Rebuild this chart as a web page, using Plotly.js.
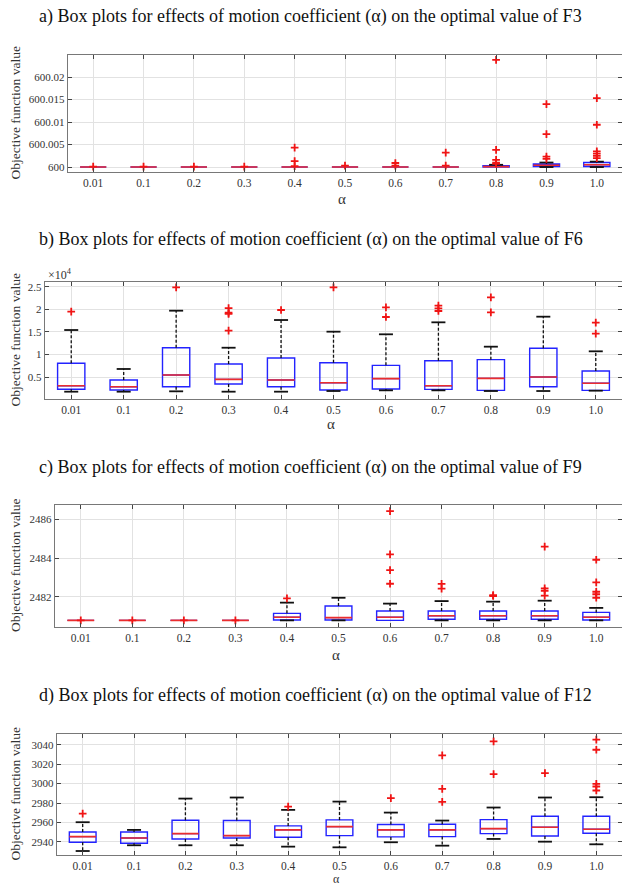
<!DOCTYPE html>
<html>
<head>
<meta charset="utf-8">
<script src="https://cdn.plot.ly/plotly-3.0.1.min.js"></script>
<style>html,body{margin:0;padding:0;background:#fff;}#chart{width:622px;height:885px;}</style>
</head>
<body>
<div id="chart"></div>
<script>
// ---------- data ----------
const alphas = ['0.01','0.1','0.2','0.3','0.4','0.5','0.6','0.7','0.8','0.9','1.0'];

const panelTitles = [
  'a) Box plots for effects of motion coefficient (α) on the optimal value of F3',
  'b) Box plots for effects of motion coefficient (α) on the optimal value of F6',
  'c) Box plots for effects of motion coefficient (α) on the optimal value of F9',
  'd) Box plots for effects of motion coefficient (α) on the optimal value of F12'
];
const yTitle = 'Objective function value';
const xTitle = 'α';

// F3
const f3Q1  = [600,600,600,600,600,600,600,600,600.0000,600.0001,600.0001];
const f3Med = [600,600,600,600,600,600,600,600,600.0001,600.0004,600.0005];
const f3Q3  = [600,600,600,600,600,600,600,600,600.0003,600.0007,600.0010];
const f3Lo  = [600,600,600,600,600,600,600,600,600,600,600];
const f3Hi  = [600,600,600,600,600,600,600,600,600.0005,600.0010,600.0012];
const f3OutX = ['0.01','0.1','0.2','0.3','0.4','0.4','0.4','0.5','0.6','0.6','0.7','0.7',
  '0.8','0.8','0.8','0.8','0.8','0.9','0.9','0.9','0.9','1.0','1.0','1.0','1.0','1.0','1.0'];
const f3OutY = [600.0001,600.0001,600.0001,600.0001,600.0043,600.0013,600.0002,600.0003,600.0009,600.0003,600.0032,600.0003,
  600.0238,600.0038,600.0016,600.0010,600.0007,600.0140,600.0073,600.0023,600.0018,600.0153,600.0094,600.0035,600.0030,600.0025,600.0020];
const f3TickVals = [600,600.005,600.01,600.015,600.02];
const f3TickText = ['600','600.005','600.01','600.015','600.02'];

// F6
const f6Q1  = [2270,2110,2850,3450,2850,2110,2330,2260,2040,2850,2040];
const f6Med = [3070,2850,5440,4480,4330,3740,4630,3070,4700,5000,3600];
const f6Q3  = [8040,4330,11500,7890,9220,8180,7590,8620,8850,11370,6330];
const f6Lo  = [1740,1740,1820,1740,1740,1890,2040,2040,1890,1890,1960];
const f6Hi  = [15430,6780,19720,11500,17650,15060,14480,17140,11730,18390,10700];
const f6OutX = ['0.01','0.2','0.3','0.3','0.3','0.3','0.4','0.5','0.6','0.6','0.7','0.7','0.7','0.8','0.8','1.0','1.0'];
const f6OutY = [19500,24900,20300,19300,19000,15300,19870,24900,20470,18320,20830,20250,19650,22690,19360,17060,14610];
const f6TickVals = [5000,10000,15000,20000,25000];
const f6TickText = ['0.5','1','1.5','2','2.5'];

// F9
const f9Q1  = [2480.8,2480.8,2480.8,2480.8,2480.82,2480.82,2480.80,2480.86,2480.86,2480.86,2480.82];
const f9Med = [2480.8,2480.8,2480.8,2480.8,2480.96,2480.94,2480.96,2481.04,2481.04,2481.04,2480.96];
const f9Q3  = [2480.8,2480.8,2480.8,2480.8,2481.16,2481.54,2481.28,2481.28,2481.28,2481.28,2481.21];
const f9Lo  = [2480.8,2480.8,2480.8,2480.8,2480.80,2480.80,2480.80,2480.80,2480.80,2480.80,2480.80];
const f9Hi  = [2480.8,2480.8,2480.8,2480.8,2481.71,2481.96,2481.66,2481.79,2481.76,2481.81,2481.44];
const f9OutX = ['0.01','0.1','0.2','0.3','0.4','0.6','0.6','0.6','0.6','0.7','0.7','0.8','0.8',
  '0.9','0.9','0.9','0.9','1.0','1.0','1.0','1.0','1.0'];
const f9OutY = [2480.8,2480.8,2480.8,2480.8,2481.93,2486.41,2484.19,2483.38,2482.68,2482.67,2482.43,2482.10,2482.05,
  2484.58,2482.44,2482.32,2482.07,2483.91,2482.75,2482.27,2482.14,2481.96];
const f9TickVals = [2482,2484,2486];
const f9TickText = ['2482','2484','2486'];

// F12
const f12Q1  = [2939.7,2938.7,2943.1,2944.1,2944.8,2946.5,2945.2,2945.5,2948.6,2946.2,2949.0];
const f12Med = [2945.5,2944.1,2948.6,2946.5,2952.4,2955.8,2952.4,2952.4,2953.7,2955.2,2953.0];
const f12Q3  = [2950.3,2950.3,2962.3,2962.0,2956.5,2962.7,2957.9,2958.2,2963.0,2966.5,2966.5];
const f12Lo  = [2930.7,2936.6,2936.6,2936.6,2935.2,2934.5,2939.7,2936.2,2943.1,2940.3,2937.6];
const f12Hi  = [2960.3,2952.4,2984.6,2985.7,2973.0,2981.5,2970.2,2962.0,2975.4,2985.7,2986.0];
const f12OutX = ['0.01','0.4','0.6','0.7','0.7','0.7','0.8','0.8','0.9','1.0','1.0','1.0','1.0','1.0'];
const f12OutY = [2969.2,2976.4,2985.0,3029.0,2994.6,2981.2,3043.4,3009.8,3010.8,3045.2,3034.8,2999.8,2997.0,2992.9];
const f12TickVals = [2940,2960,2980,3000,3020,3040];
const f12TickText = ['2940','2960','2980','3000','3020','3040'];

// ---------- layout geometry (pixels) ----------
const W = 622, H = 885;
const panels = [
  {q1:f3Q1, med:f3Med, q3:f3Q3, lo:f3Lo, hi:f3Hi, ox:f3OutX, oy:f3OutY, tv:f3TickVals, tt:f3TickText,
   left:68, top:55, bottom:172, yr:[599.9989,600.0249], titleY:16, alphaY:199, alphaSize:15},
  {q1:f6Q1, med:f6Med, q3:f6Q3, lo:f6Lo, hi:f6Hi, ox:f6OutX, oy:f6OutY, tv:f6TickVals, tt:f6TickText,
   left:45, top:282, bottom:399, yr:[116,26090], titleY:240, alphaY:424, alphaSize:15},
  {q1:f9Q1, med:f9Med, q3:f9Q3, lo:f9Lo, hi:f9Hi, ox:f9OutX, oy:f9OutY, tv:f9TickVals, tt:f9TickText,
   left:55, top:505, bottom:627, yr:[2480.46,2486.72], titleY:467, alphaY:655, alphaSize:15},
  {q1:f12Q1, med:f12Med, q3:f12Q3, lo:f12Lo, hi:f12Hi, ox:f12OutX, oy:f12OutY, tv:f12TickVals, tt:f12TickText,
   left:57, top:734, bottom:855, yr:[2926.6,3051], titleY:695, alphaY:879, alphaSize:12}
];

const SERIF = 'Liberation Serif, Times New Roman, serif';
const BLUE = 'rgb(35,35,255)';
const RED = 'rgb(235,45,45)';
const OUT_RED = 'rgb(240,20,20)';
const traces = [];
const layout = {
  width: W, height: H,
  margin: {l:0, r:0, t:0, b:0},
  paper_bgcolor: '#fff', plot_bgcolor: '#fff',
  showlegend: false,
  boxmode: 'overlay',
  font: {family: SERIF, color: '#222'},
  annotations: []
};

panels.forEach((p, i) => {
  const n = i + 1;
  const xa = 'x' + (n === 1 ? '' : n), ya = 'y' + (n === 1 ? '' : n);
  const xKey = 'xaxis' + (n === 1 ? '' : n), yKey = 'yaxis' + (n === 1 ? '' : n);

  // whiskers (dashed) and caps
  const wx = [], wy = [];
  const cx = [], cy = [];
  alphas.forEach((a, k) => {
    if (p.hi[k] > p.q3[k]) { wx.push(a, a, null); wy.push(p.q3[k], p.hi[k], null); cx.push(a); cy.push(p.hi[k]); }
    if (p.lo[k] < p.q1[k]) { wx.push(a, a, null); wy.push(p.q1[k], p.lo[k], null); cx.push(a); cy.push(p.lo[k]); }
  });
  traces.push({type:'scatter', mode:'lines', x:wx, y:wy, xaxis:xa, yaxis:ya,
    line:{color:'#111', width:1.3, dash:'3px,2px'}, hoverinfo:'skip', connectgaps:false});
  traces.push({type:'scatter', mode:'markers', x:cx, y:cy, xaxis:xa, yaxis:ya,
    marker:{symbol:'line-ew-open', size:10, color:'#111', line:{color:'#111', width:1.8}}, hoverinfo:'skip'});

  // boxes
  traces.push({type:'box', x:alphas, q1:p.q1, median:p.med, q3:p.q3, lowerfence:p.q1, upperfence:p.q3,
    xaxis:xa, yaxis:ya, width:0.52, boxpoints:false, fillcolor:'rgba(0,0,0,0)',
    line:{color:BLUE, width:1.4}, whiskerwidth:0, hoverinfo:'skip'});
  // medians in red
  traces.push({type:'box', x:alphas, q1:p.med, median:p.med, q3:p.med, lowerfence:p.med, upperfence:p.med,
    xaxis:xa, yaxis:ya, width:0.52, boxpoints:false, fillcolor:'rgba(0,0,0,0)',
    line:{color:RED, width:1.6}, whiskerwidth:0, hoverinfo:'skip'});
  // outliers
  traces.push({type:'scatter', mode:'markers', x:p.ox, y:p.oy, xaxis:xa, yaxis:ya,
    marker:{symbol:'cross-thin-open', size:5.5, color:OUT_RED, line:{color:OUT_RED, width:1.8}}, hoverinfo:'skip'});

  layout[xKey] = {
    domain:[p.left / W, 1], anchor: ya,
    type:'category', categoryorder:'array', categoryarray: alphas, range:[-0.5, 10.5],
    showgrid:true, gridcolor:'rgb(226,226,226)', gridwidth:1,
    ticks:'inside', ticklen:4, tickcolor:'#444', tickwidth:1,
    showline:true, linecolor:'rgb(120,120,120)', linewidth:1.4, mirror:'ticks',
    tickfont:{family:SERIF, size:11.5, color:'#333'},
    zeroline:false, automargin:false
  };
  layout[yKey] = {
    domain:[1 - p.bottom / H, 1 - p.top / H], anchor: xa,
    range: p.yr, tickvals: p.tv, ticktext: p.tt,
    showgrid:true, gridcolor:'rgb(226,226,226)', gridwidth:1,
    ticks:'inside', ticklen:4, tickcolor:'#444', tickwidth:1,
    showline:true, linecolor:'rgb(120,120,120)', linewidth:1.4, mirror:'ticks',
    tickfont:{family:SERIF, size:11, color:'#333'},
    zeroline:false, automargin:false
  };

  // panel title
  layout.annotations.push({xref:'paper', yref:'paper', x:37 / W, y:1 - p.titleY / H,
    xanchor:'left', yanchor:'middle', showarrow:false, text: panelTitles[i],
    font:{family:SERIF, size:18, color:'#111'}});
  // y-axis title
  layout.annotations.push({xref:'paper', yref:'paper', x:15 / W, y:1 - ((p.top + p.bottom) / 2) / H,
    xanchor:'center', yanchor:'middle', showarrow:false, textangle:-90, text: yTitle,
    font:{family:SERIF, size:13.5, color:'#333'}});
  // x-axis title (alpha)
  layout.annotations.push({xref:'paper', yref:'paper', x:((p.left + W) / 2 - 3) / W, y:1 - p.alphaY / H,
    xanchor:'center', yanchor:'middle', showarrow:false, text: xTitle, borderpad:0,
    font:{family:SERIF, size:p.alphaSize, color:'#333'}});
});

// x10^4 exponent label for F6
layout.annotations.push({xref:'paper', yref:'paper', x:46 / W, y:1 - 274 / H,
  xanchor:'left', yanchor:'middle', showarrow:false, text:'×10<sup>4</sup>',
  font:{family:SERIF, size:12, color:'#333'}});

Plotly.newPlot('chart', traces, layout, {staticPlot:true, displayModeBar:false});
</script>
</body>
</html>
